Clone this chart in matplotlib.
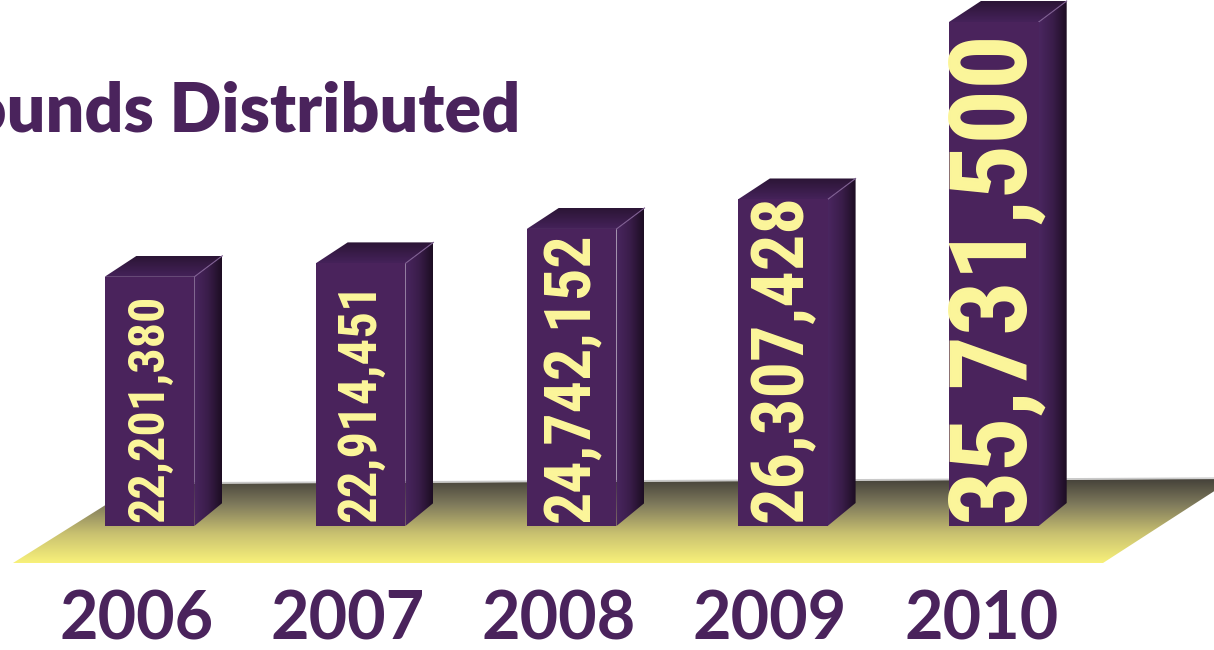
import matplotlib.pyplot as plt
import numpy as np
from matplotlib.patches import Polygon
from matplotlib.colors import LinearSegmentedColormap
from matplotlib.transforms import blended_transform_factory

years = ['2006', '2007', '2008', '2009', '2010']
pounds = [22201380, 22914451, 24742152, 26307428, 35731500]
title = 'Pounds Distributed'

# styling
purple = '#4a235c'
label_yellow = '#fdf79b'
label_sizes = [36, 38, 46, 52, 78]
W, H = 1214, 650
base = 526          # px from top where the bars stand
dx, dy = 28, 21     # depth of the fake 3d

fig = plt.figure(figsize=(W / 100, H / 100), dpi=100)

# background axes in pixel units (y down) for floor / decorations
bg = fig.add_axes([0, 0, 1, 1], zorder=0)
bg.axis('off')

ax = fig.add_axes([0, (H - base) / H, 1, base / H], zorder=1)
ax.patch.set_alpha(0)
ax.axis('off')

vals = np.array(pounds) / 1e6
x = np.arange(len(years))
bar_w = 0.425
ax.set_xlim(-0.708, 5.043)
ax.set_ylim(8.97, 36.9)
ax.bar(x, vals, width=bar_w, color=purple, linewidth=0)


def to_px(xd, yd):
    p = ax.transData.transform((xd, yd))
    return bg.transData.inverted().transform(p)


def grad_poly(pts, colors, horizontal, z):
    pts = np.array(pts)
    poly = Polygon(pts, closed=True, facecolor='none', edgecolor='none',
                   transform=bg.transData)
    bg.add_patch(poly)
    cmap = LinearSegmentedColormap.from_list('g', colors)
    g = np.linspace(0, 1, 256)
    arr = g.reshape(1, -1) if horizontal else g.reshape(-1, 1)
    x0, x1 = pts[:, 0].min(), pts[:, 0].max()
    y0, y1 = pts[:, 1].min(), pts[:, 1].max()
    im = bg.imshow(arr, cmap=cmap, extent=(x0, x1, y1, y0), origin='upper',
                   aspect='auto', interpolation='bicubic', zorder=z)
    im.set_clip_path(poly)


bg.set_xlim(0, W)
bg.set_ylim(H, 0)

# floor
floor = [(13, 563), (1103, 563), (1233, 479), (139, 484)]
grad_poly(floor, [(0, '#45423a'), (0.3, '#7f7a5c'), (0.65, '#c9c170'),
                  (1, '#f8f17a')], False, 1)
bg.plot([139, 1233], [483, 478], color='#c9c9c9', lw=1, zorder=2)

# side and top faces of the bars
y_bot = ax.get_ylim()[0]
for i, v in enumerate(vals):
    xl, yt = to_px(i - bar_w / 2, v)
    xr, yb = to_px(i + bar_w / 2, y_bot)
    side = [(xr, yb), (xr + dx, yb - dy - 2), (xr + dx, yt - dy), (xr, yt)]
    grad_poly(side, ['#4a2660', '#3a1d4a', '#1c0d22'], True, 3)
    top = [(xl, yt), (xl + dx + 4, yt - dy), (xr + dx, yt - dy), (xr, yt)]
    grad_poly(top, ['#2b1535', '#45225a'], False, 3)
    bg.plot([xr, xr + dx], [yt, yt - dy], color='#7d5d90', lw=0.8, zorder=4)

bg.set_xlim(0, W)
bg.set_ylim(H, 0)

# value labels on the bars
lab_tr = blended_transform_factory(ax.transData, bg.transData)
for i, v in enumerate(pounds):
    ax.text(i, 522, f'{v:,}', transform=lab_tr, rotation=90,
            ha='center', va='bottom', color=label_yellow,
            fontsize=label_sizes[i], fontweight='bold', fontstretch='condensed',
            family=['Roboto Condensed', 'DejaVu Sans'], zorder=5)

# year labels
for i, yr in enumerate(years):
    bg.text(i - 0.06, 640, yr, transform=lab_tr, ha='center', va='baseline',
            color=purple, fontsize=48, fontweight='bold', family='Lato')

# title, clipped on the left like the original slide
bg.text(520, 131, title, ha='right', va='baseline', color=purple,
        fontsize=49, fontweight='heavy', family='Lato')

fig.savefig('out.png', dpi=100)
